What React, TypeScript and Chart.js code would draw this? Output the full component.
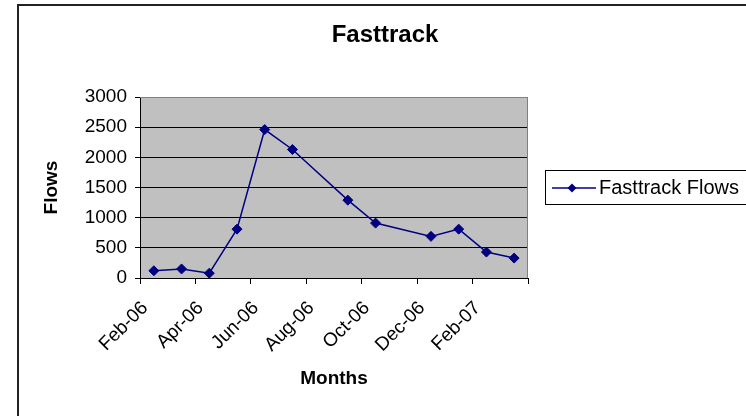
import React, { useEffect, useRef } from "react";
import { Chart, registerables } from "chart.js";

Chart.register(...registerables);

// ---- data ----
const chartTitle = "Fasttrack";
const seriesLabel = "Fasttrack Flows";
const xAxisTitle = "Months";
const yAxisTitle = "Flows";
const dataMonths = [
  "Feb-06", "Mar-06", "Apr-06", "May-06", "Jun-06", "Jul-06",
  "Sep-06", "Oct-06", "Dec-06", "Jan-07", "Feb-07", "Mar-07",
];
const flowValues = [120, 150, 80, 810, 2460, 2130, 1290, 910, 690, 810, 430, 330];
const axisTickLabels = ["Feb-06", "Apr-06", "Jun-06", "Aug-06", "Oct-06", "Dec-06", "Feb-07", ""];
const axisStartMonth = "Feb-06";
const axisEndMonth = "Apr-07";
const yTicks = [0, 500, 1000, 1500, 2000, 2500, 3000];

const MONTHS = ["Jan", "Feb", "Mar", "Apr", "May", "Jun", "Jul", "Aug", "Sep", "Oct", "Nov", "Dec"];
function monthIndex(s: string): number {
  const [m, y] = s.split("-");
  return (2000 + parseInt(y, 10)) * 12 + MONTHS.indexOf(m);
}
const base = monthIndex(axisStartMonth);
const axisMax = monthIndex(axisEndMonth) - base;
// points sit in the middle of their month bucket (Excel "between dates")
const points = dataMonths.map((m, i) => ({ x: monthIndex(m) - base + 0.5, y: flowValues[i] }));

const FONT = "'Liberation Sans', Arial, sans-serif";
const NAVY = "#000080";

const decorPlugin = {
  id: "decor",
  beforeDraw(chart: any) {
    const { ctx, chartArea } = chart;
    ctx.save();
    ctx.fillStyle = "#ffffff";
    ctx.fillRect(0, 0, chart.width, chart.height);
    ctx.fillStyle = "#c0c0c0";
    ctx.fillRect(chartArea.left, chartArea.top, chartArea.right - chartArea.left, chartArea.bottom - chartArea.top);
    ctx.restore();
  },
  beforeDatasetsDraw(chart: any) {
    const { ctx, chartArea } = chart;
    ctx.save();
    ctx.strokeStyle = "#808080";
    ctx.lineWidth = 1;
    ctx.beginPath();
    ctx.moveTo(chartArea.left, chartArea.top + 0.5);
    ctx.lineTo(chartArea.right - 0.5, chartArea.top + 0.5);
    ctx.lineTo(chartArea.right - 0.5, chartArea.bottom);
    ctx.stroke();
    ctx.restore();
  },
  afterDraw(chart: any) {
    const { ctx } = chart;
    ctx.save();
    // outer frame
    ctx.fillStyle = "#222";
    ctx.fillRect(17, 4, 2, 420);
    ctx.fillRect(17, 4, 740, 2);
    // title
    ctx.fillStyle = "#000";
    ctx.font = `bold 24px ${FONT}`;
    ctx.textAlign = "center";
    ctx.textBaseline = "alphabetic";
    ctx.fillText(chartTitle, 385, 42);
    // legend
    ctx.strokeStyle = "#000";
    ctx.lineWidth = 1;
    ctx.strokeRect(545.5, 170.5, 300, 34);
    ctx.strokeStyle = NAVY;
    ctx.lineWidth = 1.5;
    ctx.beginPath();
    ctx.moveTo(552, 188);
    ctx.lineTo(596, 188);
    ctx.stroke();
    ctx.fillStyle = NAVY;
    ctx.beginPath();
    ctx.moveTo(572 - 4.5, 188);
    ctx.lineTo(572, 188 - 4.5);
    ctx.lineTo(572 + 4.5, 188);
    ctx.lineTo(572, 188 + 4.5);
    ctx.closePath();
    ctx.fill();
    ctx.fillStyle = "#000";
    ctx.font = `20px ${FONT}`;
    ctx.textAlign = "left";
    ctx.fillText(seriesLabel, 599, 194);
    ctx.restore();
  },
};

export default function App() {
  const ref = useRef<HTMLCanvasElement | null>(null);
  useEffect(() => {
    if (!ref.current) return;
    const chart = new Chart(ref.current, {
      type: "line",
      data: {
        datasets: [
          {
            label: seriesLabel,
            data: points,
            borderColor: NAVY,
            backgroundColor: NAVY,
            borderWidth: 1.5,
            pointStyle: "rectRot",
            pointRadius: 5,
            pointBorderWidth: 1,
            pointBorderColor: NAVY,
            pointBackgroundColor: NAVY,
            tension: 0,
          },
        ],
      },
      options: {
        responsive: false,
        animation: false,
        layout: { padding: { top: 97, right: 218, left: 0, bottom: 0 } },
        plugins: {
          legend: { display: false },
          title: { display: false },
          tooltip: { enabled: false },
        },
        scales: {
          x: {
            type: "linear",
            min: 0,
            max: axisMax,
            afterFit: (s: any) => {
              s.height = 138;
            },
            afterBuildTicks: (s: any) => {
              s.ticks = axisTickLabels.map((_, i) => ({ value: i * 2 }));
            },
            ticks: {
              autoSkip: false,
              minRotation: 45,
              maxRotation: 45,
              padding: 13,
              labelOffset: 5,
              color: "#000",
              font: { family: FONT, size: 19 },
              callback: (v: any) => axisTickLabels[Math.round(Number(v) / 2)] ?? "",
            },
            grid: {
              drawOnChartArea: false,
              drawTicks: true,
              tickLength: 6,
              color: "#000",
            },
            border: { display: true, color: "#000", width: 1 },
            title: {
              display: true,
              text: xAxisTitle,
              color: "#000",
              font: { family: FONT, size: 19, weight: "bold" },
              padding: { top: 0, bottom: 25.6 },
            },
          },
          y: {
            min: 0,
            max: 3000,
            afterFit: (s: any) => {
              s.width = 140;
            },
            afterBuildTicks: (s: any) => {
              s.ticks = yTicks.map((v) => ({ value: v }));
            },
            ticks: {
              padding: 8,
              color: "#000",
              font: { family: FONT, size: 19 },
              callback: (v: any) => String(v),
            },
            grid: {
              drawTicks: true,
              tickLength: 5,
              color: (c: any) => (c.tick && c.tick.value === 3000 ? "#808080" : "#000"),
              tickColor: "#000",
            },
            border: { display: true, color: "#000", width: 1 },
            title: {
              display: true,
              text: yAxisTitle,
              color: "#000",
              font: { family: FONT, size: 19, weight: "bold" },
              padding: { top: 40.6, bottom: 0 },
            },
          },
        },
      } as any,
      plugins: [decorPlugin],
    });
    return () => chart.destroy();
  }, []);
  return (
    <div style={{ position: "absolute", left: 0, top: 0, width: 746, height: 416 }}>
      <canvas ref={ref} width={746} height={416} />
    </div>
  );
}
